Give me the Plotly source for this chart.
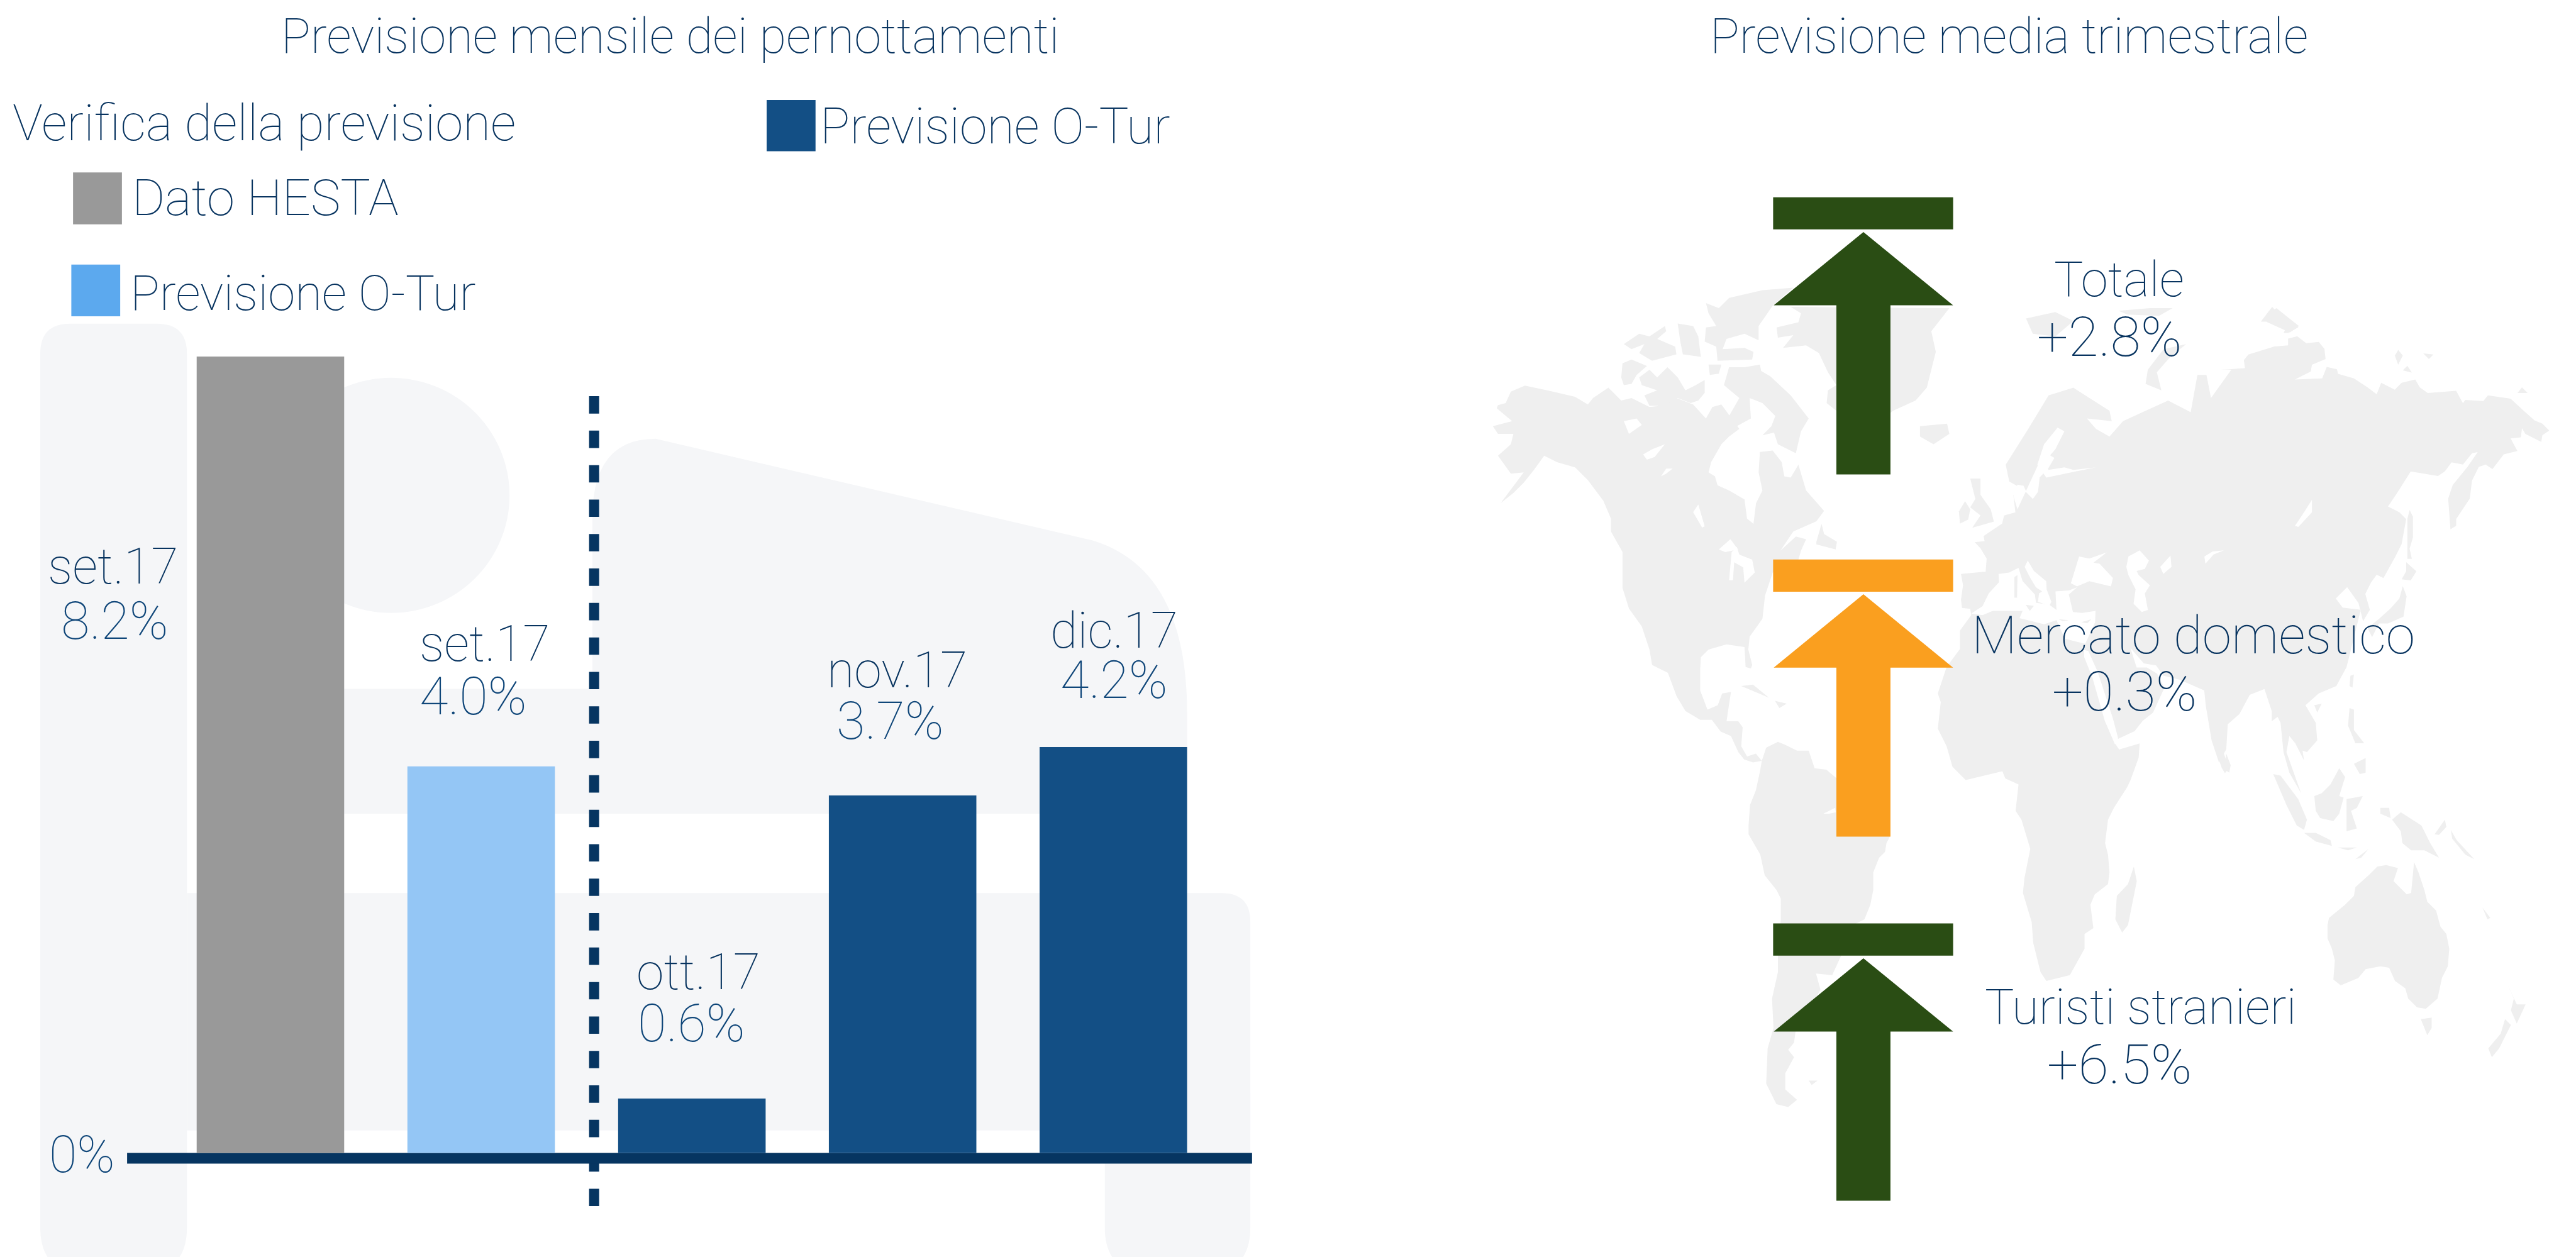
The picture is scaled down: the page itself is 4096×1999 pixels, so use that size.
import plotly.graph_objects as go

# ---------- data ----------
BAR_LABELS = ["set.17", "set.17", "ott.17", "nov.17", "dic.17"]
BAR_VALUES = [8.2, 3.98, 0.56, 3.68, 4.18]
BAR_TEXTS = ["8.2%", "4.0%", "0.6%", "3.7%", "4.2%"]
BAR_COLORS = ["#999999", "#94c6f5", "#134f85", "#134f85", "#134f85"]
ARROW_NAMES = ["Totale", "Mercato domestico", "Turisti stranieri"]
ARROW_TEXTS = ["+2.8%", "+0.3%", "+6.5%"]
ARROW_COLORS = ["#2a4d14", "#fa9f1f", "#2a4d14"]

FONT = "Roboto"
WEIGHT = 100
TEXT = "#07335f"
VALUE = "#0f4679"
BLOB = "#f5f6f8"
LAND = "#efefef"
W, H = 4479.0, 2186.0
S = W / 1568.0


def px(x):
    return x / W


def py(y):
    return 1 - y / H


def path(points):
    return "M" + " L".join(f"{px(x):.5f},{py(y):.5f}" for x, y in points) + " Z"


def crop(ox, oy, sx, sy=None):
    sy = sy or sx
    return lambda pts: [(ox + a / sx, oy + b / sy) for a, b in pts]


Z5 = crop(2560, 460, 2.24)
Z6 = crop(3260, 460, 1.275, 2.24)
Z7 = crop(2900, 1160, 1.96)
Z8 = crop(3700, 1160, 1.96)
Z9 = crop(3340, 800, 2.8)
Z10 = crop(3860, 500, 2.533)

LAND_POLYS = [
    # North America
    Z5([(100,548),(130,540),(150,495),(205,472),(300,492),(400,515),(450,545),(470,520),(530,480),(580,530),(620,520),(690,555),(720,552),(795,520),(860,545),(910,600),(935,555),(970,545),(1010,600),(1040,640),(1000,670),(970,700),(930,770),(920,810),(945,825),(955,860),(1000,880),(1060,915),(1070,990),(1095,1010),(1105,930),(1130,880),(1115,810),(1120,730),(1170,725),(1205,770),(1215,825),(1240,830),(1270,780),(1300,880),(1370,960),(1340,1000),(1250,1040),(1200,1115),(1260,1060),(1300,1070),(1280,1115),(1270,1150),(1170,1200),(1140,1290),(1130,1380),(1080,1450),(1075,1500),(1090,1560)])
    + Z7([(283,5),(265,0)])
    + Z5([(1060,1490),(990,1480),(920,1500),(890,1530)])
    + Z7([(110,10),(110,80),(135,145),(170,130),(185,90),(215,85),(205,150),(200,185),(240,185),(255,205),(250,270),(270,305),(300,295),(320,320),(290,325),(260,315),(240,290),(215,235),(180,220),(150,180),(110,180),(60,150),(30,100),(0,20)])
    + Z5([(700,1560),(690,1500),(660,1410),(610,1340),(585,1260),(585,1120),(540,1040),(540,990),(510,920),(450,840),(400,790),(330,770),(280,745),(240,800),(200,850),(160,890),(110,930),(200,810),(150,815),(125,780),(100,745),(150,700),(160,660),(100,660),(80,630),(155,610),(95,560)]),
    # Arctic Canada
    Z5([(585,385),(620,370),(680,395),(640,430),(620,465),(590,470),(580,440)]),
    Z5([(650,440),(690,410),(720,440),(760,400),(800,440),(830,490),(870,470),(905,450),(905,500),(880,530),(850,540),(800,520),(750,550),(690,550),(670,510),(720,490),(660,470)]),
    Z5([(920,390),(970,390),(960,425),(925,430)]),
    Z5([(1000,400),(1060,400),(1120,390),(1125,415),(1160,435),(1240,510),(1310,600),(1280,650),(1260,735),(1190,700),(1175,655),(1130,665),(1165,630),(1180,590),(1130,540),(1080,520),(1085,600),(1030,630),(1000,590),(1040,520),(980,470)]),
    Z5([(590,310),(650,270),(690,280),(750,240),(755,260),(720,290),(790,320),(795,350),(700,375),(650,345),(670,310),(620,330)]),
    Z5([(800,230),(860,240),(880,280),(890,360),(820,350),(810,300)]),
    Z5([(905,300),(950,320),(955,375),(1090,370),(1095,340),(1060,325),(975,330),(990,290),(1060,270),(1115,295),(1115,240),(1170,160),(1250,90),(1130,100),(1000,130),(960,170),(910,150),(920,190),(950,240),(910,245)]),
    # Greenland, Iceland, Newfoundland, Caribbean
    Z5([(1240,165),(1280,190),(1270,225),(1185,245),(1190,285),(1250,275),(1210,325),(1300,315),(1350,345),(1385,420),(1418,470),(1385,490),(1380,540),(1418,570),(1418,650)])
    + Z6([(33,580),(40,570),(90,530),(115,480),(135,340),(125,260),(165,170)]),
    Z6([(100,630),(160,620),(165,660),(130,700),(100,670)]),
    Z5([(1340,1080),(1360,1010),(1370,1050),(1420,1080),(1415,1110),(1340,1090)]),
    Z7([(250,65),(290,60),(345,105),(310,90)]),
    Z7([(365,115),(405,125),(380,140)]),
    # South America
    Z7([(320,320),(335,275),(375,255),(400,265),(440,285),(480,285),(500,345),(540,350),(600,400),(757,577),(745,600),(740,630),(720,650),(700,700),(700,760),(690,810),(670,860),(640,875),(590,985),(560,1050),(505,1045),(520,1100),(435,1242),(430,1280),(410,1305),(430,1330),(400,1385),(400,1440),(440,1475),(410,1500),(370,1490),(335,1420),(340,1300),(360,1230),(355,1130),(375,1040),(375,980),(385,860),(385,790),(370,760),(330,710),(315,640),(275,570),(275,540),(280,470),(300,420),(315,350)]),
    Z7([(480,1410),(510,1410),(490,1425)]),
    # Eurasia and Africa
    Z9([(195,555),(300,545),(315,545),(320,480),(290,430),(262,400),(310,395),(305,370),(350,340),(395,310),(405,270),(460,255),(450,170),(520,155),(430,105)])
    + Z6([(290,780),(340,640),(385,510),(440,480),(520,570),(525,610),(470,600),(490,640),(520,670),(550,610),(600,570),(650,530),(700,575),(715,430),(735,430),(745,520),(790,410),(765,408)])
    + Z10([(40,360),(110,355),(105,320),(125,295),(240,260),(300,255),(300,225),(340,215),(380,245),(435,240),(460,270),(465,315),(405,340),(400,370),(330,405),(450,400),(470,350),(515,360),(520,380),(590,400),(650,440),(690,470),(710,420),(770,450),(800,420),(860,405),(880,440),(915,465),(1040,455),(1070,510),(1080,495),(1160,500),(1180,475),(1280,490),(1340,545),(1385,585),(1420,600),(1450,630),(1420,650),(1415,680),(1375,660),(1345,645),(1330,620),(1325,660),(1280,665),(1310,720),(1250,735),(1200,800),(1170,780),(1140,790),(1110,850),(1100,930),(1080,960),(1040,1020),(1040,1050),(1015,1065),(1005,930),(1025,870),(1090,790),(1135,725),(1110,730),(1070,780),(1020,770),(990,810),(960,830),(840,810),(790,890),(740,965),(790,990),(820,1020),(800,1130),(770,1190),(720,1280),(690,1265),(665,1300),(640,1350),(660,1420),(630,1470),(610,1390),(560,1320),(510,1370),(540,1410),(620,1420)])
    + Z8([(745,0),(710,65),(650,90),(605,130),(640,190),(645,250),(610,290),(595,285),(600,318),(570,260),(550,235),(540,290),(590,430),(550,360),(530,290),(520,190),(510,170),(490,185),(490,150),(465,75),(415,95),(380,160),(340,195),(335,280),(310,325),(285,250),(265,130),(260,80)])
    + Z9([(1260,1070),(1180,1050),(1145,1000),(1085,990),(1020,915),(1050,1010),(1100,1010),(1150,1040),(1185,1110),(1130,1230),(1080,1270),(1040,1320),(955,1360),(945,1380),(965,1410),(1065,1380),(1060,1450),(1020,1560)])
    + Z7([(1565,410),(1520,480),(1500,520),(1490,600),(1500,640),(1505,700),(1500,740),(1455,775),(1440,810),(1450,890),(1420,910),(1420,960),(1370,1050),(1290,1070),(1270,1040),(1245,940),(1240,870),(1210,770),(1215,720),(1235,620),(1205,520),(1185,490),(1195,400),(1150,380),(1140,355),(1100,365),(1015,385),(970,340),(950,270),(920,210),(930,120),(920,90),(950,0)])
    + Z9([(190,920),(190,830),(245,755),(240,725),(200,720),(195,680),(205,610)]),
    # Asia / Oceania islands
    Z8([(635,130),(660,125),(645,155)]),
    Z8([(335,295),(350,335),(345,360),(330,350)]),
    Z8([(758,30),(770,25),(765,70),(755,65)]),
    Z8([(680,880),(685,855),(740,810),(770,780),(775,750),(820,710),(850,680),(880,675),(920,685),(905,730),(950,775),(965,770),(975,665),(990,700),(1010,760),(1020,800),(1050,830),(1065,885),(1085,910),(1095,960),(1090,1020),(1070,1060),(1055,1130),(1015,1165),(985,1160),(955,1130),(945,1095),(910,1070),(890,1025),(860,1020),(810,1030),(785,1060),(725,1085),(700,1065),(705,1000),(695,960),(680,925)]),
    Z8([(998,1200),(1035,1195),(1035,1230),(1020,1255)]),
    Z8([(1293,1080),(1325,1150),(1355,1150),(1325,1215),(1305,1170),(1315,1130)]),
    Z8([(1285,1200),(1305,1220),(1265,1300),(1240,1330),(1228,1300),(1270,1250)]),
    Z8([(900,520),(930,495),(1000,540),(1030,600),(1060,650),(1010,625),(965,625),(935,600),(930,560)]),
    Z8([(635,440),(660,430),(690,400),(720,345),(740,375),(720,440),(735,445),(720,500),(700,525),(655,515),(640,490)]),
    Z8([(495,365),(520,370),(580,450),(610,520),(600,555),(575,540),(540,470)]),
    Z8([(600,565),(640,565),(690,590),(695,610),(640,595)]),
    Z8([(745,450),(800,440),(780,480),(760,490),(780,550),(745,560)]),
    Z8([(755,140),(770,145),(770,215),(805,260),(775,260),(750,200)]),
    Z8([(770,330),(810,310),(810,360),(790,365)]),
    Z8([(775,655),(820,620),(795,650)]),
    Z8([(715,615),(780,615),(750,625)]),
    Z8([(860,480),(890,480),(895,515),(860,500)]),
    Z8([(1045,570),(1080,520),(1085,545),(1060,572)]),
    Z8([(1100,555),(1120,590),(1180,655),(1150,640),(1105,585)]),
    Z8([(1208,820),(1235,855),(1225,860)]),
    Z7([(1530,780),(1568,740)]) + Z8([(20,680),(30,730),(0,880)]) + Z7([(1548,905),(1525,860)]),
    # Japan, Sakhalin
    Z10([(805,1315),(822,1360),(808,1450),(740,1480),(700,1480),(670,1540),(650,1500),(700,1460),(750,1415),(790,1370)]),
    Z10([(820,1210),(865,1250),(840,1290),(800,1285),(820,1250)]),
    Z10([(835,980),(850,1010),(850,1100),(835,1150),(845,1195),(825,1195),(825,1080),(825,1020)]),
    # Arctic Russia islands
    Z10([(180,150),(230,85),(265,125),(285,150),(250,170),(205,150)]),
    Z10([(280,200),(305,150),(345,175),(300,200)]),
    Z10([(770,300),(785,275),(805,300),(785,340)]),
    Z10([(895,290),(940,295),(920,315)]),
    Z10([(805,365),(825,345),(845,375)]),
    Z10([(1310,465),(1330,440),(1355,465)]),
    Z6([(335,210),(400,185),(440,220),(400,280),(350,270)]),
    Z6([(540,180),(610,170),(660,170),(630,200),(560,195)]),
    Z6([(865,205),(890,170),(940,240),(920,265),(870,225)]),
    Z6([(600,465),(605,410),(640,330),(690,310),(655,360),(625,420),(635,490)]),
    # UK and Ireland
    Z9([(240,90),(290,90),(290,170),(340,240),(355,300),(250,330),(290,270),(240,230),(265,190)]),
    Z9([(185,250),(215,200),(240,240),(230,290),(190,310)]),
]

WATER_POLYS = [
    Z9([(245,748),(300,712),(330,650),(380,595),(378,555),(430,548),(475,525),(495,590),(555,655),(560,695),(625,705),(660,730),(655,640),(720,635),(760,620),(720,655),(740,740),(785,745),(850,735),(848,790),(800,895),(700,870),(660,780),(600,800),(480,770),(495,735),(350,735),(300,755)]),
    Z9([(505,520),(520,490),(550,540),(610,590),(612,630),(635,690),(625,710),(570,690),(575,650),(590,640),(560,620),(530,570)]),
    Z9([(730,600),(770,470),(820,480),(905,450),(840,500),(870,505),(935,575),(925,615),(820,590),(760,615)]),
    Z9([(1000,520),(1010,470),(1065,440),(1110,490),(1090,530),(1050,540),(1060,560),(1115,610),(1090,650),(1105,730),(1075,740),(1035,700),(1045,630),(1010,560)]),
    Z9([(1165,520),(1215,465),(1220,520),(1180,555)]),
    Z9([(1380,470),(1420,445),(1475,440),(1425,460),(1385,505)]),
    Z9([(795,925),(815,930),(860,1030),(935,1260),(960,1355),(945,1385),(895,1270),(835,1060),(795,960)]),
    Z9([(470,240),(450,175),(470,120),(500,125),(515,160),(545,190),(570,155),(578,85),(620,40),(650,-10),(600,-40)]),
    Z6([(405,635),(420,650),(400,720),(375,770),(385,800),(420,790),(440,800),(490,790),(380,830),(360,780),(375,700)]),
    Z10([(405,935),(405,990),(345,1055),(330,1050),(370,990)]),
    Z5([(1000,1230),(1010,1120),(1030,1100),(1040,1130),(1090,1150),(1100,1200),(1060,1240),(1055,1180),(1020,1160),(1015,1230)]),
    Z5([(960,1110),(1005,1070),(1035,1110),(985,1120)]),
    Z5([(665,740),(700,720),(750,700),(710,750),(680,760)]),
    Z5([(735,825),(755,795),(780,795),(755,815)]),
    Z5([(880,935),(905,1020),(895,1025),(860,965)]),
    Z5([(590,610),(640,600),(660,625),(610,660)]),
    Z7([(530,500),(570,480),(572,495),(550,500)]),
]
ISLANDS_OVER = [
    Z9([(510,705),(550,710),(530,735)]),
    Z9([(455,570),(470,560),(468,670),(455,670)]),
    Z9([(780,790),(830,775),(810,795)]),
    Z9([(670,775),(720,780),(690,785)]),
    Z9([(1440,1430),(1475,1430),(1500,1500),(1480,1525),(1465,1500)]),
]

shapes = []


def add_poly(points, color):
    shapes.append(dict(type="path", xref="paper", yref="paper", layer="below",
                       path=path(points), fillcolor=color, line=dict(width=0)))


def rect(x0, y0, x1, y1, color):
    shapes.append(dict(type="rect", xref="paper", yref="paper", layer="below",
                       x0=px(x0), x1=px(x1), y0=py(y0), y1=py(y1),
                       fillcolor=color, line=dict(width=0)))


def rounded(x0, y0, x1, y1, rtl, rtr, rbl, rbr, color):
    """Rounded rectangle; the radii are in reference pixels."""
    d = (f"M{px(x0+rtl):.5f},{py(y0):.5f} L{px(x1-rtr):.5f},{py(y0):.5f} "
         f"Q{px(x1):.5f},{py(y0):.5f} {px(x1):.5f},{py(y0+rtr):.5f} "
         f"L{px(x1):.5f},{py(y1-rbr):.5f} Q{px(x1):.5f},{py(y1):.5f} {px(x1-rbr):.5f},{py(y1):.5f} "
         f"L{px(x0+rbl):.5f},{py(y1):.5f} Q{px(x0):.5f},{py(y1):.5f} {px(x0):.5f},{py(y1-rbl):.5f} "
         f"L{px(x0):.5f},{py(y0+rtl):.5f} Q{px(x0):.5f},{py(y0):.5f} {px(x0+rtl):.5f},{py(y0):.5f} Z")
    shapes.append(dict(type="path", xref="paper", yref="paper", layer="below", path=d,
                       fillcolor=color, line=dict(width=0)))


# background logo
rounded(70, 563, 325, 2215, 52, 52, 80, 80, BLOB)
shapes.append(dict(type="circle", xref="paper", yref="paper", layer="below",
                   x0=px(474), x1=px(886), y0=py(657), y1=py(1066), fillcolor=BLOB, line=dict(width=0)))
rect(598, 1198, 1035, 1415, BLOB)
d = (f"M{px(1030):.5f},{py(1415):.5f} L{px(1030):.5f},{py(900):.5f} "
     f"Q{px(1030):.5f},{py(763):.5f} {px(1140):.5f},{py(763):.5f} "
     f"L{px(1900):.5f},{py(940):.5f} Q{px(2064):.5f},{py(990):.5f} {px(2064):.5f},{py(1240):.5f} "
     f"L{px(2064):.5f},{py(1415):.5f} Z")
shapes.append(dict(type="path", xref="paper", yref="paper", layer="below", path=d,
                   fillcolor=BLOB, line=dict(width=0)))
rounded(325, 1553, 2174, 1966, 0, 50, 0, 0, BLOB)
rounded(1921, 1900, 2174, 2215, 0, 0, 80, 80, BLOB)

# dashed separator and baseline
shapes.append(dict(type="line", xref="paper", yref="paper", layer="below",
                   x0=px(1033), x1=px(1033), y0=py(689), y1=py(2100),
                   line=dict(color="#063561", width=16, dash="27.6px,27.2px")))
rect(221, 2005, 2177, 2023.5, "#063561")

# world map
for poly in LAND_POLYS:
    add_poly(poly, LAND)
for poly in WATER_POLYS:
    add_poly(poly, "#ffffff")
for poly in ISLANDS_OVER:
    add_poly(poly, LAND)

# arrows
for color, dy in zip(ARROW_COLORS, [0, 630, 1263]):
    rect(3083, 343 + dy, 3396, 399 + dy, color)
    add_poly([(3240, 403.5 + dy), (3396, 531 + dy), (3287, 531 + dy), (3287, 825 + dy),
              (3193, 825 + dy), (3193, 531 + dy), (3084, 531 + dy)], color)

# legend swatches
rect(1333, 174, 1418, 263, "#134f85")
rect(127, 300, 212, 390, "#999999")
rect(124, 460, 209, 550, "#5ca9ee")

annotations = []


def text(s, x, y, size, anchor="center", color=TEXT):
    annotations.append(dict(text=s, xref="paper", yref="paper", x=px(x * S), y=py(y * S),
                            xanchor=anchor, yanchor="middle", showarrow=False,
                            font=dict(family=FONT, size=size, color=color, weight=WEIGHT)))


text("Previsione mensile dei pernottamenti", 408, 22, 78)
text("Previsione media trimestrale", 1223, 22, 78)
text("Verifica della previsione", 7, 75, 80, "left")
text("Previsione O-Tur", 498.5, 77, 79, "left")
text("Dato HESTA", 79.5, 120.5, 80, "left")
text("Previsione O-Tur", 78.5, 178.5, 78, "left")

LABEL_POS = [(69, 345, 378), (295, 392, 424), (425, 592, 623), (546, 408, 439), (678, 384, 414)]
VALUE_X = [70, 288, 421, 542, 678]
for name, val, (x, y1, y2), vx in zip(BAR_LABELS, BAR_TEXTS, LABEL_POS, VALUE_X):
    text(name, x, y1, 79)
    text(val, vx, y2, 83, color=VALUE)
text("0%", 50, 703, 81, color=VALUE)

ARROW_POS = [(1290, 170, 1284, 205), (1335, 387, 1293, 421), (1303, 613, 1290, 648)]
ARROW_SIZES = [78, 84, 78]
for name, val, size, (x1, y1, x2, y2) in zip(ARROW_NAMES, ARROW_TEXTS, ARROW_SIZES, ARROW_POS):
    text(name, x1, y1, size)
    text(val, x2, y2, 88)

fig = go.Figure(go.Bar(x=list(range(len(BAR_VALUES))), y=BAR_VALUES, width=0.7,
                       marker=dict(color=BAR_COLORS, line=dict(width=0)), hoverinfo="skip"))
fig.update_layout(
    width=4096, height=1999, autosize=False, margin=dict(l=0, r=0, t=0, b=0),
    paper_bgcolor="white", plot_bgcolor="rgba(0,0,0,0)", showlegend=False,
    shapes=shapes, annotations=annotations,
    xaxis=dict(domain=[px(287), px(2119)], range=[-0.5, 4.5], visible=False, fixedrange=True),
    yaxis=dict(domain=[0, 1], range=[-(H - 2005) / 168.9, 2005 / 168.9], visible=False, fixedrange=True),
)
fig.write_html("out.html", config=dict(displayModeBar=False),
               post_script="document.body.style.margin='0';document.body.style.overflow='hidden';")
